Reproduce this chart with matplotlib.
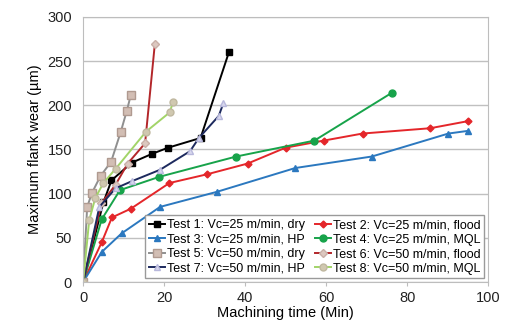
import matplotlib.pyplot as plt

plt.rcParams['font.family'] = ['Liberation Sans', 'DejaVu Sans']

# Data (time in min, flank wear in um)
t1_x = [0, 5, 7, 12, 17, 21, 29, 36]
t1_y = [0, 90, 115, 135, 145, 152, 163, 260]
t2_x = [0, 4.6, 7.1, 11.8, 21.3, 30.7, 40.6, 50, 59.4, 69, 85.7, 95]
t2_y = [0, 45, 73, 83, 112, 122, 134, 152, 160, 168, 174, 182]
t3_x = [0, 4.6, 9.5, 19, 33, 52.4, 71.3, 90.2, 95]
t3_y = [0, 34, 55, 85, 102, 129, 142, 168, 171]
t4_x = [0, 4.6, 9.1, 18.8, 37.8, 57.1, 76.2]
t4_y = [0, 71, 104, 119, 142, 160, 214]
t5_x = [0, 1, 2.2, 4.3, 6.9, 9.3, 10.8, 11.8]
t5_y = [0, 85, 101, 120, 136, 170, 194, 212]
t6_x = [0, 4.5, 8, 11, 15.3, 17.7]
t6_y = [0, 89, 110, 134, 157, 269]
t7_x = [0, 4, 8, 12, 19, 26.4, 28.6, 33.5, 34.6]
t7_y = [0, 85, 106, 114, 127, 148, 163, 188, 202]
t8_x = [0, 1.5, 3, 5, 8, 15.5, 21.4, 22.2]
t8_y = [0, 70, 95, 112, 128, 170, 192, 204]

labels = ['Test 1: Vc=25 m/min, dry', 'Test 2: Vc=25 m/min, flood',
          'Test 3: Vc=25 m/min, HP', 'Test 4: Vc=25 m/min, MQL',
          'Test 5: Vc=50 m/min, dry', 'Test 6: Vc=50 m/min, flood',
          'Test 7: Vc=50 m/min, HP', 'Test 8: Vc=50 m/min, MQL']

fig = plt.figure(figsize=(5.1, 3.31), dpi=100)
ax = fig.add_axes([0.163, 0.148, 0.794, 0.801])

lw = 1.4
h1, = ax.plot(t1_x, t1_y, color='black', marker='s', ms=5, lw=lw, label=labels[0])
h2, = ax.plot(t2_x, t2_y, color='#e4262a', marker='D', ms=3.5, lw=lw, label=labels[1])
h3, = ax.plot(t3_x, t3_y, color='#2b78bf', marker='^', ms=5, lw=lw, label=labels[2])
h4, = ax.plot(t4_x, t4_y, color='#17a34a', marker='o', ms=5, lw=lw, label=labels[3])
h5, = ax.plot(t5_x, t5_y, color='#8f8f8f', marker='s', ms=6, mfc='#d2beb4',
              mec='#b09a90', lw=lw, label=labels[4])
h6, = ax.plot(t6_x, t6_y, color='#b3262a', marker='D', ms=4, mfc='#dcc8c0',
              mec='#c8b0a8', lw=lw, label=labels[5])
h7, = ax.plot(t7_x, t7_y, color='#1d2a5e', marker='^', ms=5, mfc='#d8d8ee',
              mec='#b8b8dc', lw=lw, label=labels[6])
h8, = ax.plot(t8_x, t8_y, color='#a2d468', marker='o', ms=5, mfc='#d0c8b0',
              mec='#c0b8a0', lw=lw, label=labels[7])

ax.set_xlim(0, 100)
ax.set_ylim(0, 300)
ax.set_xticks(range(0, 101, 20))
ax.set_yticks(range(0, 301, 50))
ax.yaxis.grid(True, color='#c0c0c0', lw=1)
ax.set_axisbelow(True)
for s in ax.spines.values():
    s.set_color('#bdbdbd')
ax.tick_params(axis='x', colors='#bdbdbd', labelcolor='#222222', length=3, labelsize=10.5)
ax.tick_params(axis='y', length=0, labelcolor='#222222', labelsize=10.5, pad=8)

ax.set_xlabel('Machining time (Min)', fontsize=10.5, labelpad=1)
ax.set_ylabel('Maximum flank wear (\u00b5m)', fontsize=10.5, labelpad=4)

handles = [h1, h3, h5, h7, h2, h4, h6, h8]
leg = ax.legend(handles, [h.get_label() for h in handles], ncol=2,
                loc='lower right', bbox_to_anchor=(1.0, 0.0), fontsize=9,
                fancybox=False, edgecolor='#9a9a9a', framealpha=1,
                handlelength=1.3, handletextpad=0.15, columnspacing=0.8,
                labelspacing=0.2, borderpad=0.3, borderaxespad=0.3)
leg.get_frame().set_linewidth(1.0)

fig.savefig('out.png', dpi=100)
